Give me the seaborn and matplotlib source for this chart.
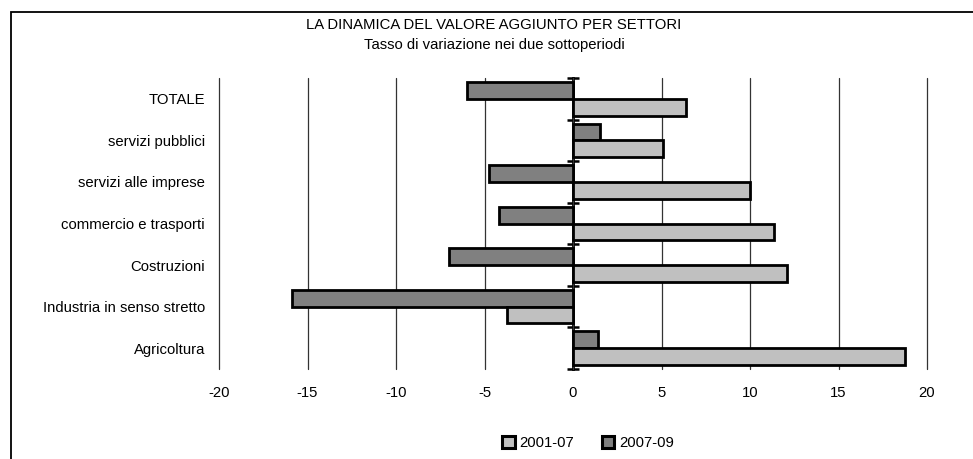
import matplotlib.pyplot as plt
import matplotlib.patches as mpatches
import seaborn as sns
import pandas as pd

# Dati
settori = ['TOTALE', 'servizi pubblici', 'servizi alle imprese', 'commercio e trasporti',
           'Costruzioni', 'Industria in senso stretto', 'Agricoltura']
var_2001_07 = [6.4, 5.1, 10.0, 11.35, 12.1, -3.75, 18.75]
var_2007_09 = [-6.0, 1.5, -4.75, -4.2, -7.0, -15.85, 1.4]
periodi = ['2001-07', '2007-09']
colori = {'2001-07': '#c0c0c0', '2007-09': '#808080'}
x_ticks = list(range(-20, 21, 5))

df = pd.DataFrame({
    'settore': settori * 2,
    'periodo': [periodi[0]] * len(settori) + [periodi[1]] * len(settori),
    'valore': var_2001_07 + var_2007_09,
})

sns.set_style('white')
plt.rcParams['font.family'] = ['Liberation Sans', 'DejaVu Sans']
plt.rcParams['font.size'] = 10.7
plt.rcParams['axes.unicode_minus'] = False
plt.rcParams['text.color'] = 'black'
plt.rcParams['xtick.color'] = 'black'
plt.rcParams['ytick.color'] = 'black'

fig = plt.figure(figsize=(9.73, 4.59), dpi=100)
ax = fig.add_axes([219 / 973, 1 - 369 / 459, (927 - 219) / 973, (369 - 78) / 459])

sns.barplot(data=df, y='settore', x='valore', hue='periodo', order=settori,
            hue_order=['2007-09', '2001-07'], palette=colori, saturation=1,
            width=0.81, edgecolor='black', linewidth=2, orient='h', ax=ax, legend=False)

ax.set_xlim(-20, 20)
ax.set_xticks(x_ticks)
ax.xaxis.grid(True, color='#333333', lw=0.9)
ax.yaxis.grid(False)
ax.set_axisbelow(True)
for line in ax.get_xgridlines():
    line.set_clip_on(False)
for s in ax.spines.values():
    s.set_visible(False)
ax.tick_params(axis='both', length=0, labelsize=10.7)
ax.tick_params(axis='x', pad=12)
ax.tick_params(axis='y', pad=10)
ax.set_xlabel('')
ax.set_ylabel('')

# asse verticale sullo zero con tacche tra le categorie
asse = ax.secondary_yaxis(0.5)
asse.set_yticks([i - 0.5 for i in range(len(settori) + 1)])
asse.tick_params(labelleft=False, labelright=False, direction='inout',
                 length=8.6, width=1.8, color='black')
for s in asse.spines.values():
    s.set_linewidth(2)
    s.set_color('black')

fig.text(494 / 973, 1 - 29 / 459, 'LA DINAMICA DEL VALORE AGGIUNTO PER SETTORI',
         ha='center', va='baseline', fontsize=10.7)
fig.text(494 / 973, 1 - 48.5 / 459, 'Tasso di variazione nei due sottoperiodi',
         ha='center', va='baseline', fontsize=10.7)

handles = [mpatches.Patch(facecolor=colori[p], edgecolor='black', lw=2.2) for p in periodi]
fig.legend(handles, periodi, loc='center', bbox_to_anchor=(588 / 973, 1 - 443 / 459),
           ncol=2, frameon=False, handlelength=0.85, handleheight=0.85,
           handletextpad=0.3, columnspacing=1.85, fontsize=10.7,
           borderpad=0, borderaxespad=0)

# cornice del grafico (bordo sinistro e superiore visibili)
fig.add_artist(mpatches.Rectangle((11 / 973, -0.1), 1.2, 1 - 12 / 459 + 0.1,
                                  transform=fig.transFigure, fill=False, lw=1.3, ec='black'))

fig.savefig('out.png', dpi=100)
